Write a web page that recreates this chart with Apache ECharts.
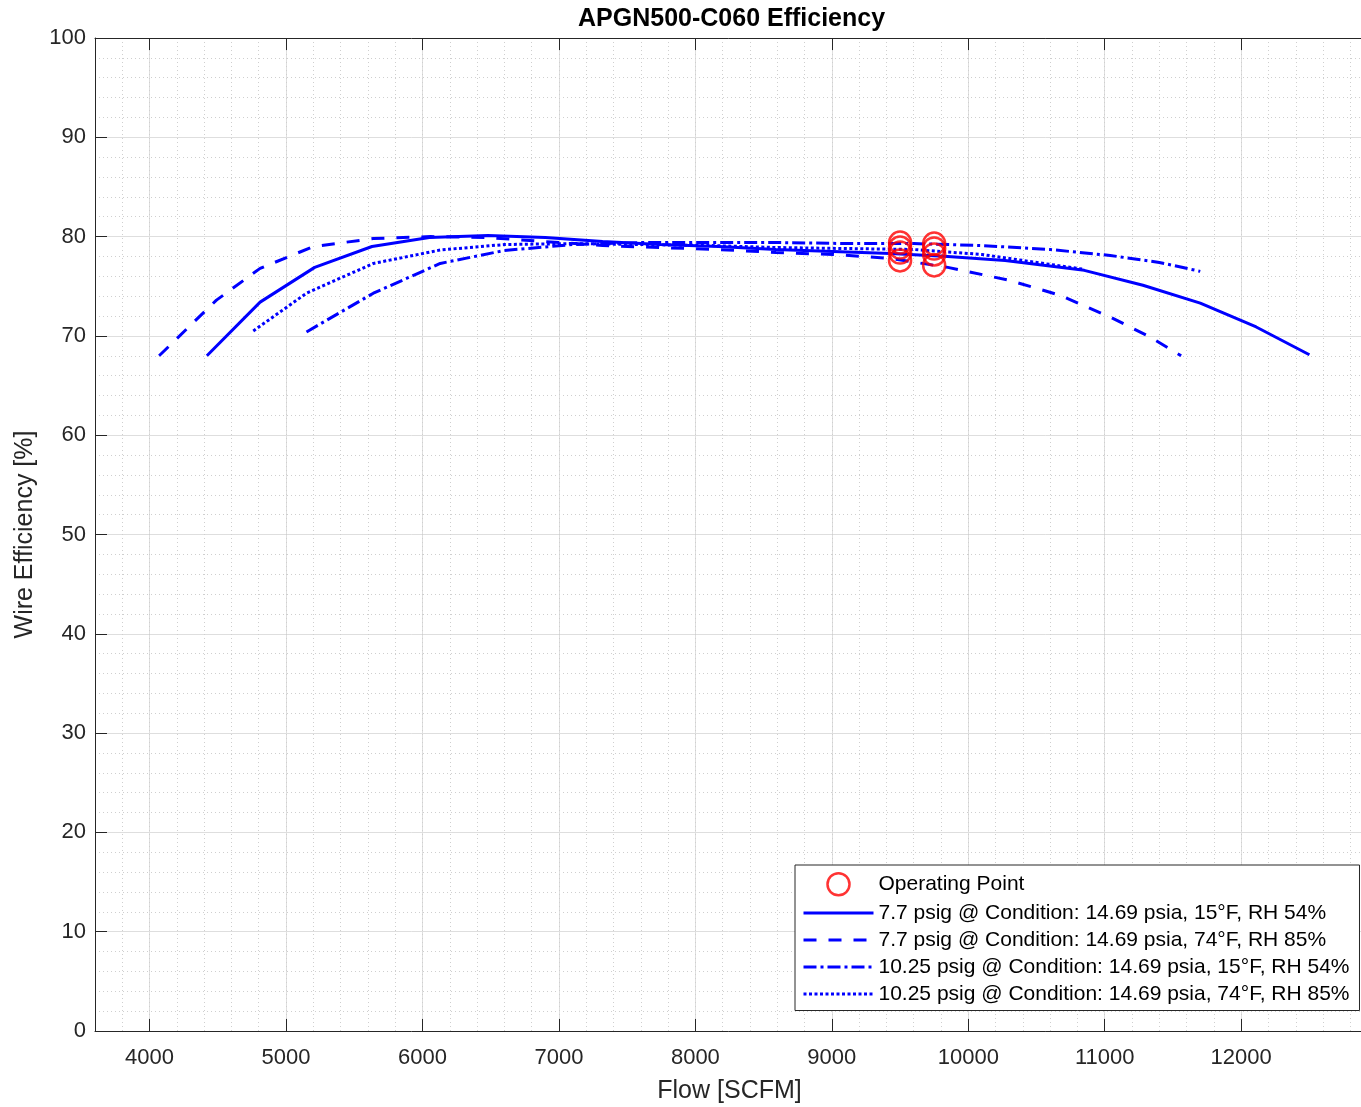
<!DOCTYPE html>
<html>
<head>
<meta charset="utf-8">
<title>APGN500-C060 Efficiency</title>
<script src="https://cdn.jsdelivr.net/npm/echarts@6/dist/echarts.min.js"></script>
<style>
  html, body { margin: 0; padding: 0; background: #fff; }
  #main { width: 1361px; height: 1107px; }
</style>
</head>
<body>
<div id="main"></div>
<script>
// Tick labels of the flow axis
var xTicks = [4000, 5000, 6000, 7000, 8000, 9000, 10000, 11000, 12000];

// Series names (legend)
var opName = 'Operating Point';
var names = [
    '7.7 psig @ Condition: 14.69 psia, 15°F, RH 54%',
    '7.7 psig @ Condition: 14.69 psia, 74°F, RH 85%',
    '10.25 psig @ Condition: 14.69 psia, 15°F, RH 54%',
    '10.25 psig @ Condition: 14.69 psia, 74°F, RH 85%'
];

// 7.7 psig, 15F
var flowA = [4420, 4810, 5210, 5630, 6050, 6480, 6900, 7320, 7740, 8170, 8590, 9010, 9430, 9850, 10270, 10850, 11280, 11700, 12110, 12500];
var effA  = [68.0, 73.4, 76.9, 79.0, 79.9, 80.1, 79.9, 79.5, 79.2, 79.0, 78.7, 78.5, 78.3, 78.0, 77.6, 76.6, 75.1, 73.3, 70.9, 68.1];

// 7.7 psig, 74F
var flowB = [4070, 4490, 4810, 5200, 5640, 6060, 6480, 6900, 7320, 7740, 8170, 8590, 9010, 9430, 9850, 10300, 10670, 11040, 11330, 11560];
var effB  = [68.0, 73.6, 76.8, 79.0, 79.8, 80.0, 79.9, 79.5, 79.1, 78.9, 78.7, 78.4, 78.2, 77.8, 76.9, 75.6, 74.1, 71.9, 69.9, 68.0];

// 10.25 psig, 15F
var flowC = [5150, 5640, 6130, 6600, 7100, 7600, 8100, 8600, 9100, 9600, 10100, 10600, 11040, 11400, 11700];
var effC  = [70.4, 74.3, 77.3, 78.6, 79.2, 79.4, 79.4, 79.4, 79.3, 79.3, 79.1, 78.7, 78.1, 77.4, 76.5];

// 10.25 psig, 74F
var flowD = [4760, 5150, 5640, 6130, 6600, 7100, 7600, 8100, 8600, 9100, 9600, 10100, 10400, 10850];
var effD  = [70.5, 74.3, 77.3, 78.65, 79.2, 79.3, 79.2, 79.1, 78.9, 78.8, 78.7, 78.2, 77.6, 76.7];

// Operating points
var opFlow = [9500, 9500, 9500, 9500, 9750, 9750, 9750, 9750];
var opEff  = [79.4, 78.9, 78.4, 77.6, 79.3, 78.8, 78.2, 77.1];

function pairs(xs, ys) {
    return xs.map(function (x, i) { return [x, ys[i]]; });
}

var font = '"Liberation Sans", Arial, Helvetica, sans-serif';
var axisColor = '#262626';
var majorGrid = { show: true, lineStyle: { color: '#dedede', width: 1 } };
var minorGrid = { show: true, lineStyle: { color: '#cfcfcf', width: 1, type: [1, 3] } };

var chart = echarts.init(document.getElementById('main'), null, { renderer: 'canvas' });

var lineTypes = ['solid', [13, 12], [13, 4, 3, 4], [3, 2.5]];
var lineData = [pairs(flowA, effA), pairs(flowB, effB), pairs(flowC, effC), pairs(flowD, effD)];

var series = names.map(function (n, i) {
    return {
        name: n,
        type: 'line',
        data: lineData[i],
        symbol: 'none',
        showSymbol: false,
        itemStyle: { color: '#0000ff' },
        lineStyle: { color: '#0000ff', width: 3, type: lineTypes[i] },
        z: 3
    };
});
series.push({
    name: opName,
    type: 'scatter',
    data: pairs(opFlow, opEff),
    symbol: 'circle',
    symbolSize: 22,
    itemStyle: { color: 'rgba(0,0,0,0)', borderColor: '#ff0000', borderWidth: 2.5 },
    z: 5
});

// legend entries: line icons keep the dash pattern, middle marker hidden
var hiddenMarker = { color: 'rgba(0,0,0,0)', borderColor: 'rgba(0,0,0,0)', borderWidth: 0 };
var legendData = [{ name: opName, itemStyle: { borderWidth: 2.5 } }].concat(names.map(function (n) {
    return { name: n, itemStyle: hiddenMarker };
}));

var option = {
    animation: false,
    backgroundColor: '#fff',
    textStyle: { fontFamily: font },
    title: {
        text: 'APGN500-C060 Efficiency',
        left: 578,
        top: 7,
        padding: 0,
        textStyle: { fontSize: 25, fontWeight: 'bold', color: '#000', fontFamily: font }
    },
    grid: {
        left: 95, top: 38, width: 1269, height: 993,
        containLabel: false,
        outerBoundsMode: 'none'
    },
    legend: {
        orient: 'vertical',
        left: 795,
        top: 865,
        padding: [7, 10, 6, 7],
        itemWidth: 70,
        itemHeight: 22,
        itemGap: 6,
        backgroundColor: '#fff',
        borderColor: axisColor,
        borderWidth: 1,
        borderRadius: 0,
        lineStyle: { width: 3 },
        textStyle: { fontSize: 21, color: '#000', fontFamily: font },
        data: legendData
    },
    xAxis: [{
        type: 'value',
        min: 3600,
        max: 12900,
        position: 'bottom',
        axisLine: { show: true, onZero: false, lineStyle: { color: axisColor, width: 1 } },
        axisTick: { show: true, inside: true, length: 12, customValues: xTicks, lineStyle: { color: axisColor } },
        axisLabel: {
            customValues: xTicks, fontSize: 22, color: axisColor, margin: 16, fontFamily: font,
            formatter: function (v) { return String(v); }
        },
        splitLine: majorGrid,
        name: 'Flow [SCFM]',
        nameLocation: 'middle',
        nameGap: 48,
        nameTextStyle: { fontSize: 25, color: axisColor, fontFamily: font }
    }, {
        // minor grid every 200 SCFM
        type: 'value',
        min: 3600,
        max: 12900,
        interval: 200,
        position: 'bottom',
        axisLine: { show: false, onZero: false },
        axisTick: { show: false },
        axisLabel: { show: false },
        splitLine: minorGrid
    }, {
        // top edge of the box
        type: 'value',
        min: 3600,
        max: 12900,
        position: 'top',
        axisLine: { show: true, onZero: false, lineStyle: { color: axisColor, width: 1 } },
        axisTick: { show: true, inside: true, length: 12, customValues: xTicks, lineStyle: { color: axisColor } },
        axisLabel: { show: false },
        splitLine: { show: false }
    }],
    yAxis: [{
        type: 'value',
        min: 0,
        max: 100,
        interval: 10,
        axisLine: { show: true, onZero: false, lineStyle: { color: axisColor, width: 1 } },
        axisTick: { show: true, inside: true, length: 12, lineStyle: { color: axisColor } },
        axisLabel: { fontSize: 22, color: axisColor, margin: 9, fontFamily: font },
        splitLine: majorGrid,
        minorTick: { show: false, splitNumber: 5 },
        minorSplitLine: minorGrid,
        name: 'Wire Efficiency [%]',
        nameLocation: 'middle',
        nameGap: 57,
        nameTextStyle: { fontSize: 25, color: axisColor, fontFamily: font }
    }],
    series: series
};

chart.setOption(option);
</script>
</body>
</html>
